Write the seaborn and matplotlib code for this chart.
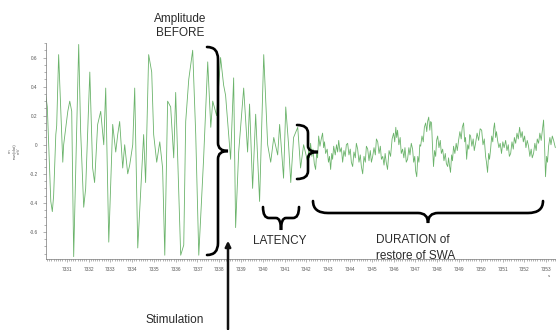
import numpy as np
import pandas as pd
import seaborn as sns
import matplotlib.pyplot as plt
from matplotlib.path import Path
from matplotlib.patches import PathPatch, FancyArrowPatch
from matplotlib.transforms import Affine2D
from matplotlib.ticker import MultipleLocator

# EEG trace (time in s, amplitude in mV)
# slow waves before stimulation + latency period
time_before = [
    7330.04, 7330.11, 7330.27, 7330.34, 7330.40, 7330.50, 7330.54, 7330.63, 7330.72, 7330.82,
    7330.86, 7331.05, 7331.14, 7331.23, 7331.32, 7331.55, 7331.64, 7331.78, 7331.87, 7332.06,
    7332.19, 7332.28, 7332.42, 7332.56, 7332.70, 7332.79, 7332.93, 7333.11, 7333.25, 7333.34,
    7333.43, 7333.57, 7333.66, 7333.80, 7333.89, 7334.03, 7334.12, 7334.26, 7334.53, 7334.62,
    7334.76, 7334.90, 7334.99, 7335.13, 7335.27, 7335.40, 7335.50, 7335.63, 7335.77, 7335.91,
    7336.00, 7336.09, 7336.23, 7336.37, 7336.46, 7336.60, 7336.78, 7336.92, 7337.06, 7337.28,
    7337.47, 7337.61, 7337.70, 7337.88, 7338.06, 7338.20, 7338.29, 7338.52, 7338.66, 7338.75,
    7338.89, 7339.12, 7339.30, 7339.39, 7339.53, 7339.67, 7339.85, 7340.04, 7340.22, 7340.36,
    7340.50, 7340.68, 7340.77, 7340.95, 7341.05, 7341.18, 7341.28, 7341.41, 7341.60, 7341.73,
    7341.87,
]
amp_before = [
    0.34, 0.26, -0.39, -0.46, -0.35, 0.07, 0.13, 0.62, 0.26, -0.12,
    0.00, 0.23, 0.30, 0.23, -0.77, 0.69, 0.09, -0.43, -0.30, 0.50,
    -0.16, -0.26, 0.14, 0.23, 0.00, 0.39, -0.67, 0.14, -0.05, 0.07,
    0.16, -0.16, 0.00, -0.20, -0.14, 0.00, 0.39, -0.71, 0.07, -0.26,
    0.62, 0.50, 0.07, -0.12, 0.02, -0.16, -0.76, 0.30, 0.26, -0.09,
    0.36, -0.07, -0.76, -0.69, 0.16, 0.45, 0.65, 0.07, -0.76, -0.10,
    0.57, 0.12, 0.30, 0.20, 0.60, 0.41, 0.34, -0.10, 0.46, -0.57,
    -0.05, 0.39, -0.05, 0.28, -0.30, 0.21, -0.39, 0.62, 0.00, -0.12,
    0.05, -0.07, 0.14, -0.23, 0.26, 0.00, -0.26, 0.05, 0.12, -0.16,
    0.00,
]
# low-amplitude activity while SWA is restored
time_after = [
    7342.06, 7342.10, 7342.14, 7342.19, 7342.25, 7342.30, 7342.36, 7342.42, 7342.47, 7342.51,
    7342.56, 7342.62, 7342.68, 7342.74, 7342.79, 7342.83, 7342.88, 7342.95, 7343.01, 7343.06,
    7343.11, 7343.16, 7343.20, 7343.25, 7343.32, 7343.38, 7343.43, 7343.48, 7343.54, 7343.60,
    7343.66, 7343.72, 7343.78, 7343.83, 7343.89, 7343.95, 7344.01, 7344.06, 7344.12, 7344.18,
    7344.24, 7344.29, 7344.35, 7344.41, 7344.47, 7344.52, 7344.58, 7344.64, 7344.70, 7344.75,
    7344.81, 7344.87, 7344.93, 7344.98, 7345.04, 7345.10, 7345.16, 7345.21, 7345.27, 7345.33,
    7345.39, 7345.44, 7345.50, 7345.56, 7345.61, 7345.66, 7345.72, 7345.79, 7345.86, 7345.93,
    7346.00, 7346.05, 7346.10, 7346.14, 7346.18, 7346.24, 7346.30, 7346.35, 7346.41, 7346.47,
    7346.52, 7346.58, 7346.64, 7346.70, 7346.75, 7346.81, 7346.87, 7346.92, 7346.97, 7347.01,
    7347.06, 7347.11, 7347.16, 7347.20, 7347.24, 7347.30, 7347.36, 7347.41, 7347.47, 7347.52,
    7347.56, 7347.61, 7347.66, 7347.70, 7347.74, 7347.78, 7347.83, 7347.88, 7347.93, 7347.97,
    7348.02, 7348.08, 7348.14, 7348.19, 7348.25, 7348.31, 7348.37, 7348.42, 7348.48, 7348.52,
    7348.56, 7348.61, 7348.66, 7348.70, 7348.75, 7348.81, 7348.87, 7348.92, 7348.98, 7349.04,
    7349.10, 7349.15, 7349.21, 7349.26, 7349.30, 7349.35, 7349.40, 7349.45, 7349.49, 7349.53,
    7349.59, 7349.65, 7349.70, 7349.76, 7349.83, 7349.90, 7349.97, 7350.04, 7350.10, 7350.16,
    7350.22, 7350.26, 7350.31, 7350.36, 7350.40, 7350.45, 7350.50, 7350.55, 7350.59, 7350.63,
    7350.68, 7350.72, 7350.77, 7350.83, 7350.89, 7350.95, 7351.01, 7351.07, 7351.14, 7351.20,
    7351.26, 7351.31, 7351.37, 7351.43, 7351.49, 7351.54, 7351.60, 7351.66, 7351.72, 7351.78,
    7351.84, 7351.90, 7351.95, 7352.01, 7352.07, 7352.13, 7352.19, 7352.25, 7352.31, 7352.36,
    7352.42, 7352.48, 7352.54, 7352.59, 7352.65, 7352.71, 7352.77, 7352.83, 7352.88, 7352.92,
    7352.97, 7353.02, 7353.06, 7353.11, 7353.17, 7353.22, 7353.28, 7353.34, 7353.42,
]
amp_after = [
    -0.12, -0.04, -0.09, 0.01, -0.08, -0.03, -0.13, -0.17, -0.05, -0.09,
    0.06, -0.01, 0.04, 0.08, -0.02, 0.02, -0.06, -0.03, -0.12, -0.08,
    -0.17, -0.06, -0.10, -0.01, -0.07, 0.00, -0.05, 0.03, -0.05, -0.02,
    -0.12, -0.04, -0.08, 0.00, 0.01, -0.07, -0.03, -0.12, -0.15, -0.05,
    -0.09, 0.01, -0.03, -0.12, -0.07, -0.15, -0.20, -0.08, -0.12, -0.01,
    -0.03, -0.11, -0.04, -0.12, -0.08, -0.02, -0.07, 0.04, 0.02, -0.06,
    -0.01, -0.10, -0.08, -0.14, -0.06, -0.12, -0.17, -0.04, -0.08, 0.04,
    0.08, 0.02, 0.12, 0.05, 0.10, 0.00, 0.05, -0.06, -0.03, -0.09,
    -0.02, -0.12, -0.10, -0.02, -0.07, 0.01, -0.03, -0.12, -0.08, -0.18,
    -0.22, -0.08, -0.12, 0.00, -0.01, 0.06, 0.02, 0.12, 0.15, 0.09,
    0.16, 0.19, 0.10, 0.16, 0.15, 0.00, -0.15, -0.04, -0.08, 0.03,
    0.06, -0.02, 0.03, -0.06, -0.03, -0.11, -0.06, -0.13, -0.15, -0.09,
    -0.14, -0.19, -0.07, -0.11, -0.01, -0.06, 0.01, -0.04, 0.03, 0.09,
    0.04, 0.12, 0.15, 0.02, 0.05, -0.10, 0.00, -0.03, 0.07, 0.06,
    -0.01, 0.04, -0.04, 0.01, 0.08, 0.03, 0.11, 0.10, 0.00, 0.04,
    -0.08, -0.12, -0.19, -0.06, -0.10, -0.03, 0.06, 0.02, 0.11, 0.15,
    0.05, 0.09, 0.03, -0.02, 0.01, -0.06, 0.02, -0.02, 0.03, -0.04,
    0.00, -0.08, -0.06, 0.02, -0.03, 0.05, 0.01, 0.08, 0.04, 0.12,
    0.05, 0.09, 0.02, 0.06, -0.02, 0.03, -0.01, -0.08, -0.03, -0.09,
    -0.06, 0.01, -0.04, 0.04, 0.01, 0.08, 0.03, 0.11, 0.17, 0.02,
    -0.22, -0.08, -0.12, -0.01, 0.05, 0.00, 0.06, 0.03, -0.02,
]
x_ticks = list(range(7331, 7354))
y_ticks = [-0.6, -0.4, -0.2, 0.0, 0.2, 0.4, 0.6]

df = pd.DataFrame({"time": time_before + time_after, "amp": amp_before + amp_after})

sns.set_style("ticks")
plt.rcParams["font.family"] = ["Liberation Sans", "DejaVu Sans"]
W, H = 556, 330
fig = plt.figure(figsize=(W / 100, H / 100), dpi=100)
ax = fig.add_axes([46 / W, 1 - 259 / H, 1 - 46 / W, (259 - 43) / H])

sns.lineplot(data=df, x="time", y="amp", ax=ax, color="#45a045", linewidth=0.6, alpha=0.8)

ax.set_xlim(7330.05, 7353.45)
ax.set_ylim(-0.786, 0.70)
ax.set_xticks(x_ticks)
ax.set_xticklabels([str(t) for t in x_ticks])
ax.set_yticks(y_ticks)
ax.set_yticklabels(["%g" % v for v in y_ticks])
ax.xaxis.set_minor_locator(MultipleLocator(0.1))
ax.yaxis.set_minor_locator(MultipleLocator(0.05))
ax.tick_params(which="both", labelsize=3.4, labelcolor="#555555", color="#777777", width=0.4)
ax.tick_params(which="major", length=2.5)
ax.tick_params(which="minor", length=1.2)
ax.set_xlabel("")
ax.set_ylabel("m\nraw(dat)\nmV", fontsize=3.2, color="#666666", labelpad=6)
for s in ["top", "right"]:
    ax.spines[s].set_visible(False)
for s in ["left", "bottom"]:
    ax.spines[s].set_linewidth(0.5)
    ax.spines[s].set_color("#777777")

# pixel coordinates (origin top-left) -> figure
px = Affine2D().scale(1 / W, -1 / H).translate(0, 1) + fig.transFigure


def brace(a, b, h1, h2, r, r2):
    a = np.array(a, float)
    b = np.array(b, float)
    L = np.linalg.norm(b - a)
    u = (b - a) / L
    n = np.array([-u[1], u[0]])
    if h1 < 0:
        n = -n
        h1, h2 = -h1, -h2
    loc = [(0, 0), (0, h1), (r, h1), (L / 2 - r2, h1), (L / 2, h1), (L / 2, h1 + h2),
           (L / 2, h1), (L / 2 + r2, h1), (L - r, h1), (L, h1), (L, 0)]
    codes = [Path.MOVETO, Path.CURVE3, Path.CURVE3, Path.LINETO, Path.CURVE3, Path.CURVE3,
             Path.CURVE3, Path.CURVE3, Path.LINETO, Path.CURVE3, Path.CURVE3]
    pts = [a + s * u + d * n for s, d in loc]
    fig.add_artist(PathPatch(Path(pts, codes), transform=px, fill=False,
                             edgecolor="black", linewidth=1.9, capstyle="round"))


brace((207, 47), (207, 255), -11, -10, 12, 8)
brace((297, 125), (297, 179), -11, -10, 8, 6)
brace((263, 207), (299, 207), 11, 12, 6, 5)
brace((313, 201), (543, 201), 12, 10, 15, 10)

txt = dict(transform=px, fontsize=8.5, color="#2a2a2a")
fig.text(180, 26, "Amplitude\nBEFORE", ha="center", va="center", linespacing=1.3, **txt)
fig.text(280, 241, "LATENCY", ha="center", va="center", **txt)
fig.text(376, 248, "DURATION of\nrestore of SWA", ha="left", va="center", linespacing=1.35, **txt)
fig.text(175, 320, "Stimulation", ha="center", va="center", **txt)
fig.text(549, 276, "s", ha="center", va="center", transform=px, fontsize=3.2, color="#555555")

fig.add_artist(FancyArrowPatch((228, 332), (228, 238), transform=px, arrowstyle="-|>",
                               mutation_scale=8, linewidth=1.8, color="#111111"))

fig.savefig("out.png", dpi=100)
